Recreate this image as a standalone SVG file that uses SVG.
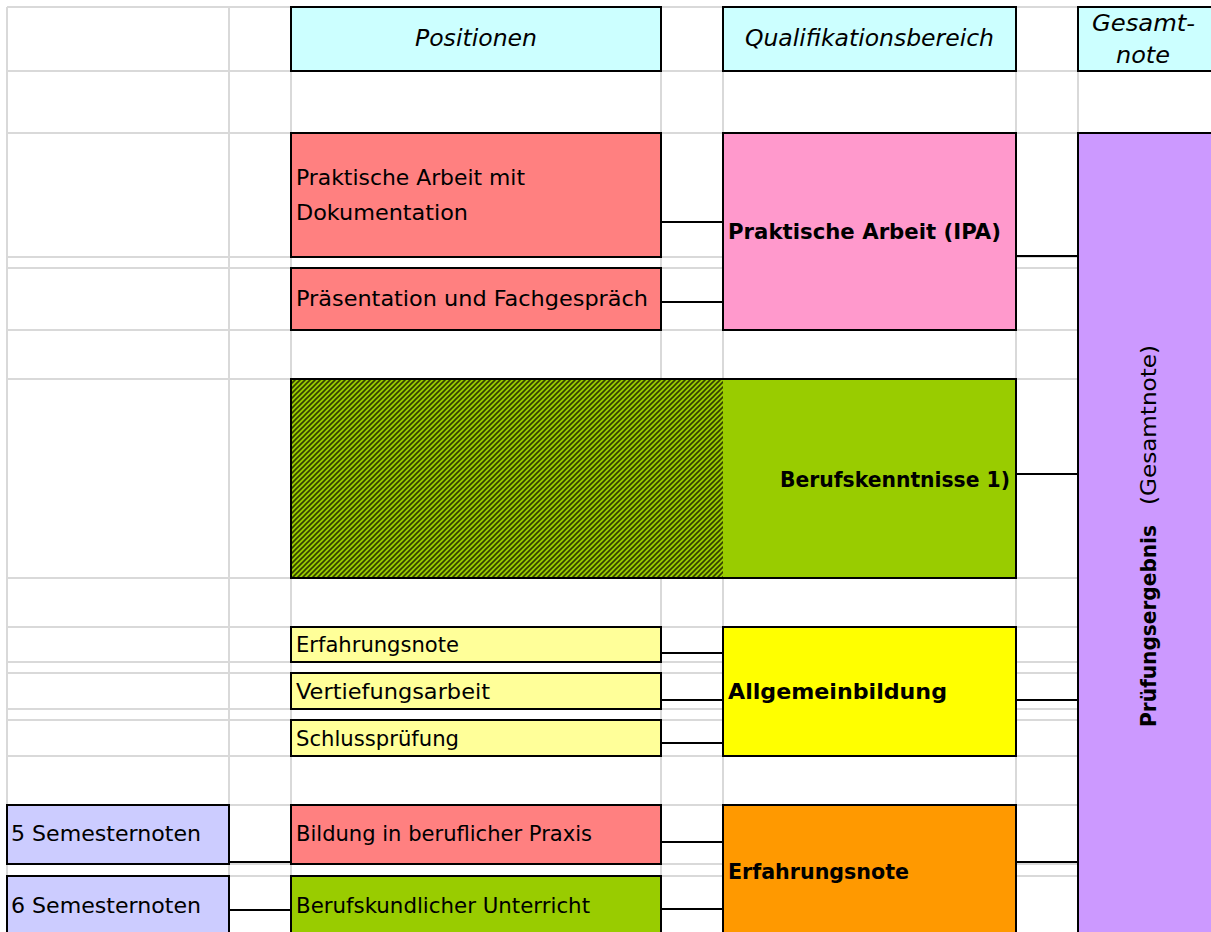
<svg xmlns="http://www.w3.org/2000/svg" width="1211" height="932" viewBox="0 0 1211 932">
<style>
.grid line{stroke:#d9d9d9;stroke-width:2}
.box{stroke:#000;stroke-width:2}
.conn line{stroke:#000;stroke-width:1.8}
.t{font-family:"DejaVu Sans","Liberation Sans",sans-serif;font-size:21px;fill:#000}
.b{font-weight:bold}
.i{font-style:italic;font-size:23px}
</style>
<defs>
<pattern id="hatch" patternUnits="userSpaceOnUse" width="5" height="5">
<rect width="5" height="5" fill="#99cc00"/>
<path d="M-1,6 L6,-1 M-3.5,3.5 L3.5,-3.5 M1.5,8.5 L8.5,1.5" stroke="#334000" stroke-width="1.6"/>
</pattern>
</defs>
<rect width="1211" height="932" fill="#fff"/>
<g class="grid">
<line x1="7" y1="7" x2="1211" y2="7"/>
<line x1="7" y1="71" x2="1211" y2="71"/>
<line x1="7" y1="133" x2="1211" y2="133"/>
<line x1="7" y1="257" x2="1211" y2="257"/>
<line x1="7" y1="268" x2="1211" y2="268"/>
<line x1="7" y1="330" x2="1211" y2="330"/>
<line x1="7" y1="379" x2="1211" y2="379"/>
<line x1="7" y1="578" x2="1211" y2="578"/>
<line x1="7" y1="627" x2="1211" y2="627"/>
<line x1="7" y1="662" x2="1211" y2="662"/>
<line x1="7" y1="673" x2="1211" y2="673"/>
<line x1="7" y1="709" x2="1211" y2="709"/>
<line x1="7" y1="720" x2="1211" y2="720"/>
<line x1="7" y1="756" x2="1211" y2="756"/>
<line x1="7" y1="805" x2="1211" y2="805"/>
<line x1="7" y1="864" x2="1211" y2="864"/>
<line x1="7" y1="876" x2="1211" y2="876"/>
<line x1="7" y1="7" x2="7" y2="932"/>
<line x1="229" y1="7" x2="229" y2="932"/>
<line x1="291" y1="7" x2="291" y2="932"/>
<line x1="661" y1="7" x2="661" y2="932"/>
<line x1="723" y1="7" x2="723" y2="932"/>
<line x1="1016" y1="7" x2="1016" y2="932"/>
<line x1="1078" y1="7" x2="1078" y2="932"/>
</g>
<g class="conn">
<line x1="661" y1="222" x2="723" y2="222"/>
<line x1="661" y1="302" x2="723" y2="302"/>
<line x1="1016" y1="256" x2="1078" y2="256"/>
<line x1="1016" y1="474" x2="1078" y2="474"/>
<line x1="661" y1="653" x2="723" y2="653"/>
<line x1="661" y1="700" x2="723" y2="700"/>
<line x1="661" y1="743" x2="723" y2="743"/>
<line x1="1016" y1="700" x2="1078" y2="700"/>
<line x1="229" y1="862" x2="291" y2="862"/>
<line x1="229" y1="910" x2="291" y2="910"/>
<line x1="661" y1="842" x2="723" y2="842"/>
<line x1="661" y1="909" x2="723" y2="909"/>
<line x1="1016" y1="862" x2="1078" y2="862"/>
</g>
<g id="h-positionen">
<rect class="box" x="291" y="7" width="370" height="64" fill="#ccffff"/>
<text class="t i" x="476" y="46" text-anchor="middle" textLength="122" lengthAdjust="spacingAndGlyphs">Positionen</text>
</g>
<g id="h-qualifikation">
<rect class="box" x="723" y="7" width="293" height="64" fill="#ccffff"/>
<text class="t i" x="869.5" y="46" text-anchor="middle" textLength="249" lengthAdjust="spacingAndGlyphs">Qualifikationsbereich</text>
</g>
<g id="h-gesamtnote">
<rect class="box" x="1078" y="7" width="140" height="64" fill="#ccffff"/>
<text class="t i" x="1143.5" y="31" text-anchor="middle" textLength="103" lengthAdjust="spacingAndGlyphs">Gesamt-</text>
<text class="t i" x="1143" y="63" text-anchor="middle" textLength="54" lengthAdjust="spacingAndGlyphs">note</text>
</g>
<g id="n-praktische-doku">
<rect class="box" x="291" y="133" width="370" height="124" fill="#ff8080"/>
<text class="t" x="296" y="185" textLength="229" lengthAdjust="spacingAndGlyphs">Praktische Arbeit mit</text>
<text class="t" x="296" y="220" textLength="172" lengthAdjust="spacingAndGlyphs">Dokumentation</text>
</g>
<g id="n-praesentation">
<rect class="box" x="291" y="268" width="370" height="62" fill="#ff8080"/>
<text class="t" x="296" y="306" textLength="352" lengthAdjust="spacingAndGlyphs">Präsentation und Fachgespräch</text>
</g>
<g id="n-ipa">
<rect class="box" x="723" y="133" width="293" height="197" fill="#ff99cc"/>
<text class="t b" x="728" y="239" textLength="273" lengthAdjust="spacingAndGlyphs">Praktische Arbeit (IPA)</text>
</g>
<g id="n-berufskenntnisse">
<rect class="box" x="291" y="379" width="725" height="199" fill="#99cc00"/>
<rect x="292" y="380" width="431" height="197" fill="url(#hatch)"/>
<text class="t b" x="1010" y="487" text-anchor="end" textLength="230" lengthAdjust="spacingAndGlyphs">Berufskenntnisse 1)</text>
</g>
<g id="n-erfahrungsnote-ab">
<rect class="box" x="291" y="627" width="370" height="35" fill="#ffff99"/>
<text class="t" x="296" y="652" textLength="163" lengthAdjust="spacingAndGlyphs">Erfahrungsnote</text>
</g>
<g id="n-vertiefungsarbeit">
<rect class="box" x="291" y="673" width="370" height="36" fill="#ffff99"/>
<text class="t" x="296" y="699" textLength="194" lengthAdjust="spacingAndGlyphs">Vertiefungsarbeit</text>
</g>
<g id="n-schlusspruefung">
<rect class="box" x="291" y="720" width="370" height="36" fill="#ffff99"/>
<text class="t" x="296" y="746" textLength="163" lengthAdjust="spacingAndGlyphs">Schlussprüfung</text>
</g>
<g id="n-allgemeinbildung">
<rect class="box" x="723" y="627" width="293" height="129" fill="#ffff00"/>
<text class="t b" x="728" y="699" textLength="219" lengthAdjust="spacingAndGlyphs">Allgemeinbildung</text>
</g>
<g id="n-sem5">
<rect class="box" x="7" y="805" width="222" height="59" fill="#ccccff"/>
<text class="t" x="11" y="841" textLength="190" lengthAdjust="spacingAndGlyphs">5 Semesternoten</text>
</g>
<g id="n-sem6">
<rect class="box" x="7" y="876" width="222" height="70" fill="#ccccff"/>
<text class="t" x="11" y="913" textLength="190" lengthAdjust="spacingAndGlyphs">6 Semesternoten</text>
</g>
<g id="n-bildung-praxis">
<rect class="box" x="291" y="805" width="370" height="59" fill="#ff8080"/>
<text class="t" x="296" y="841" textLength="296" lengthAdjust="spacingAndGlyphs">Bildung in beruflicher Praxis</text>
</g>
<g id="n-berufskundlich">
<rect class="box" x="291" y="876" width="370" height="70" fill="#99cc00"/>
<text class="t" x="296" y="913" textLength="294" lengthAdjust="spacingAndGlyphs">Berufskundlicher Unterricht</text>
</g>
<g id="n-erfahrungsnote">
<rect class="box" x="723" y="805" width="293" height="140" fill="#ff9900"/>
<text class="t b" x="728" y="879" textLength="181" lengthAdjust="spacingAndGlyphs">Erfahrungsnote</text>
</g>
<g id="n-pruefungsergebnis">
<rect class="box" x="1078" y="133" width="140" height="812" fill="#cc99ff"/>
<g transform="translate(1156,727) rotate(-90)">
<text class="t b" x="0" y="0" textLength="202" lengthAdjust="spacingAndGlyphs">Prüfungsergebnis</text>
<text class="t" x="222" y="0" textLength="160" lengthAdjust="spacingAndGlyphs">(Gesamtnote)</text>
</g>
</g>
</svg>
